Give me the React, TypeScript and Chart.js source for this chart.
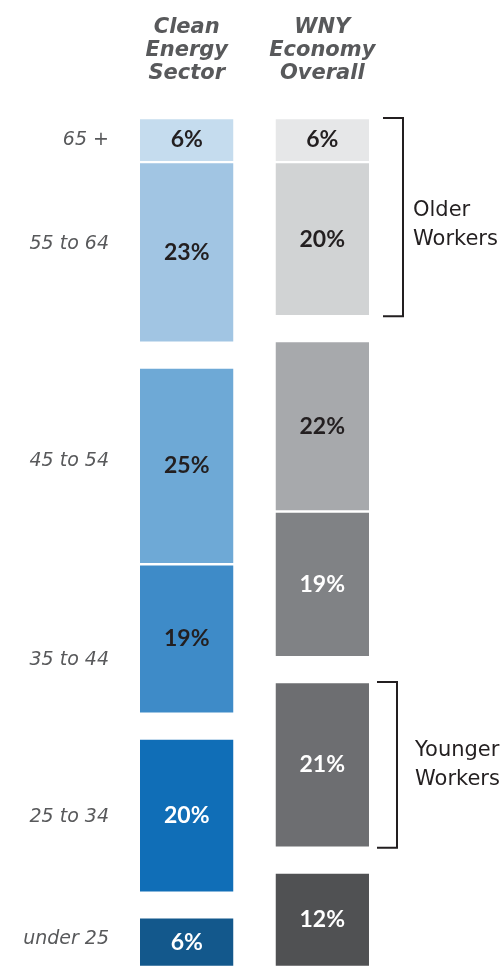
import React, { useEffect, useRef } from "react";
import { Chart, registerables } from "chart.js";

Chart.register(...registerables);

// ---- data ----
const columnTitles = [
  ["Clean", "Energy", "Sector"],
  ["WNY", "Economy", "Overall"],
];
// bottom -> top
const ageGroups = ["under 25", "25 to 34", "35 to 44", "45 to 54", "55 to 64", "65 +"];
const cleanEnergyShare = [6.4, 19.9, 19.3, 25.4, 23.3, 5.7];
const wnyEconomyShare = [12.2, 21.4, 18.8, 22.0, 19.9, 5.7];
const groupsFollowedByGap = ["under 25", "25 to 34", "45 to 54"];
const gapValue = 3.2;
const bracketGroups = [
  { text: ["Older", "Workers"], from: "55 to 64", to: "65 +" },
  { text: ["Younger", "Workers"], from: "25 to 34", to: "25 to 34" },
];

// ---- styles ----
const cleanColors = ["#13588c", "#106eb7", "#3e8bc8", "#6ea9d6", "#a1c5e3", "#c5dcee"];
const wnyColors = ["#505153", "#6d6e71", "#808285", "#a7a9ac", "#d1d3d4", "#e6e7e8"];
const cleanTextColors = ["#ffffff", "#ffffff", "#231f20", "#231f20", "#231f20", "#231f20"];
const wnyTextColors = ["#ffffff", "#ffffff", "#ffffff", "#231f20", "#231f20", "#231f20"];
const ageLabelShift = [-3, 2, 21, -5, -8, 0];
const bracketStyle = [
  { lineOffset: 34, tickOffset: 14, textOffset: 44, textShift: 8 },
  { lineOffset: 28, tickOffset: 8, textOffset: 46, textShift: 0 },
];

export default function App() {
  const ref = useRef<HTMLCanvasElement | null>(null);

  useEffect(() => {
    document.body.style.margin = "0";
    const canvas = ref.current;
    if (!canvas) return;

    const datasets: any[] = [];
    ageGroups.forEach((g, i) => {
      datasets.push({
        label: g,
        data: [cleanEnergyShare[i], wnyEconomyShare[i]],
        backgroundColor: [cleanColors[i], wnyColors[i]],
        borderColor: "#ffffff",
        borderWidth: { top: 1.2, bottom: 1.2, left: 0, right: 0 },
        borderSkipped: false,
        textColors: [cleanTextColors[i], wnyTextColors[i]],
        labelShift: ageLabelShift[i],
      });
      if (groupsFollowedByGap.includes(g)) {
        datasets.push({
          label: "",
          data: [gapValue, gapValue],
          backgroundColor: "rgba(0,0,0,0)",
          borderWidth: 0,
          spacer: true,
        });
      }
    });

    const yMax = Math.max(
      ...[0, 1].map((c) => datasets.reduce((s, d) => s + d.data[c], 0))
    );

    const overlay = {
      id: "overlay",
      afterDatasetsDraw(chart: any) {
        const ctx = chart.ctx;
        ctx.save();
        const findEls = (label: string) => {
          const idx = chart.data.datasets.findIndex((d: any) => d.label === label);
          return chart.getDatasetMeta(idx).data;
        };
        chart.data.datasets.forEach((ds: any, di: number) => {
          if (ds.spacer) return;
          const meta = chart.getDatasetMeta(di);
          meta.data.forEach((el: any, ci: number) => {
            const v = ds.data[ci];
            ctx.font = "bold 23px Lato";
            ctx.fillStyle = ds.textColors[ci];
            ctx.textAlign = "center";
            ctx.textBaseline = "middle";
            ctx.fillText(Math.round(v) + "%", el.x, (el.y + el.base) / 2);
          });
          const first = meta.data[0];
          ctx.font = "italic 19px 'DejaVu Sans'";
          ctx.fillStyle = "#58595b";
          ctx.textAlign = "right";
          ctx.textBaseline = "middle";
          ctx.fillText(
            ds.label,
            first.x - first.width / 2 - 31,
            (first.y + first.base) / 2 + ds.labelShift
          );
        });
        bracketGroups.forEach((b, bi) => {
          const top = findEls(b.to)[1];
          const bottom = findEls(b.from)[1];
          const right = top.x + top.width / 2;
          const y1 = top.y;
          const y2 = bottom.base;
          const st = bracketStyle[bi];
          const lx = right + st.lineOffset;
          const tx = right + st.tickOffset;
          ctx.strokeStyle = "#231f20";
          ctx.lineWidth = 2;
          ctx.beginPath();
          ctx.moveTo(tx, y1);
          ctx.lineTo(lx, y1);
          ctx.lineTo(lx, y2);
          ctx.lineTo(tx, y2);
          ctx.stroke();
          ctx.font = "21px 'DejaVu Sans'";
          ctx.fillStyle = "#231f20";
          ctx.textAlign = "left";
          ctx.textBaseline = "middle";
          const mid = (y1 + y2) / 2 + st.textShift;
          const lh = 29;
          b.text.forEach((t, k) => {
            ctx.fillText(t, right + st.textOffset, mid + (k - (b.text.length - 1) / 2) * lh);
          });
        });
        ctx.restore();
      },
    };

    const chart = new Chart(canvas, {
      type: "bar",
      data: { labels: columnTitles, datasets },
      options: {
        animation: false,
        responsive: false,
        layout: { padding: { left: 119, right: 113, top: 14, bottom: 0 } },
        plugins: { legend: { display: false }, tooltip: { enabled: false } },
        datasets: { bar: { categoryPercentage: 1, barPercentage: 0.69 } },
        scales: {
          x: {
            position: "top",
            stacked: true,
            grid: { display: false, drawTicks: false },
            border: { display: false },
            afterFit: (scale: any) => {
              scale.height = 104;
            },
            ticks: {
              padding: 33,
              color: "#58595b",
              font: { family: "'DejaVu Sans'", size: 21, style: "italic", weight: "bold", lineHeight: 1.09 },
              maxRotation: 0,
              autoSkip: false,
            },
          },
          y: {
            display: false,
            stacked: true,
            min: 0,
            max: yMax,
          },
        },
      },
      plugins: [overlay],
    });
    return () => chart.destroy();
  }, []);

  return (
    <div style={{ width: 503, height: 967 }}>
      <canvas ref={ref} width={503} height={967} style={{ display: "block" }} />
    </div>
  );
}
